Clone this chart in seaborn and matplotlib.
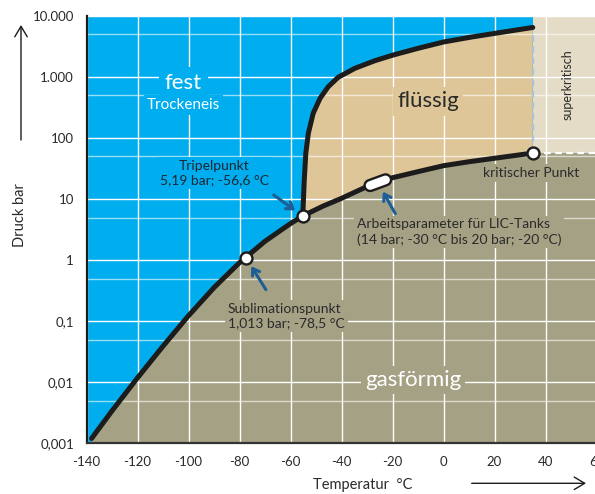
import matplotlib
matplotlib.use("Agg")
import matplotlib.pyplot as plt
from matplotlib.patches import FancyArrowPatch
import seaborn as sns
from matplotlib.ticker import FixedLocator, FixedFormatter, LogLocator, NullFormatter

sns.set_style("white")
plt.rcParams['font.family'] = ['Lato', 'DejaVu Sans']

# Sublimationskurve (fest / gasförmig)
subl_t = [-138, -130, -120, -110, -100, -90, -80, -70, -60, -55.2]
subl_p = [0.0012, 0.0034, 0.0118, 0.039, 0.123, 0.355, 0.91, 2.04, 3.98, 5.3]

# Dampfdruckkurve (flüssig / gasförmig)
vap_t = [-55.2, -47.2, -40, -30.1, -21, -10, 0, 10, 20, 35]
vap_p = [5.3, 7.7, 10.3, 16.0, 21.9, 28.2, 35.3, 41.0, 46.7, 56.8]

# Schmelzkurve (fest / flüssig)
melt_t = [-55.2, -54.6, -54.0, -53.0, -51.1, -48.4, -45.2, -41.3, -34.7, -26.9, -19.7,
          -9.9, 0, 10.4, 20.2, 35]
melt_p = [5.3, 20.6, 56.4, 120, 255, 449, 695, 991, 1392, 1854, 2297,
          2960, 3750, 4480, 5200, 6490]

# markierte Punkte: Sublimationspunkt, Tripelpunkt, kritischer Punkt
points_t = [-77.5, -55.2, 35]
points_p = [1.1, 5.3, 56.8]

# Arbeitsbereich LIC-Tanks
pill_t = [-28.8, -22.7]
pill_p = [16.7, 20.7]

x_ticks = [-140, -120, -100, -80, -60, -40, -20, 0, 20, 40, 60]
x_labels = ["-140", "-120", "-100", "-80", "-60", "-40", "-20", "0", "20", "40", "60"]
y_ticks = [0.001, 0.01, 0.1, 1, 10, 100, 1000, 10000]
y_labels = ["0,001", "0,01", "0,1", "1", "10", "100", "1.000", "10.000"]
half_lines = [0.005, 0.05, 0.5, 5, 50, 500, 5000]

BLUE = "#00aeef"
LIQ = "#dec699"
GAS = "#a5a185"
SUPER = "#e4dcc7"
DARK = "#1c1c1c"
TXT = "#2a2a2a"
ARROW = "#1d5e96"

xmin, xmax = -140, 60
ymin, ymax = 0.001, 10000

fig = plt.figure(figsize=(5.95, 4.94), dpi=100)
ax = fig.add_axes([86.5 / 595, 50.7 / 494, 510 / 595, 427.3 / 494])
ax.set_facecolor(BLUE)
ax.set_yscale("log")
ax.set_xlim(xmin, xmax)
ax.set_ylim(ymin, ymax)

# Flächen
gas_t = [subl_t[0]] + subl_t + vap_t[1:] + [xmax, xmax]
gas_p = [ymin] + subl_p + vap_p[1:] + [vap_p[-1], ymin]
ax.fill(gas_t, gas_p, color=GAS, lw=0, zorder=1)
ax.fill(melt_t + vap_t[::-1], melt_p + vap_p[::-1], color=LIQ, lw=0, zorder=1)
ax.fill_between([points_t[2], xmax], points_p[2], ymax, color=SUPER, lw=0, zorder=1)

# Gitter
ax.set_axisbelow("line")
ax.xaxis.set_major_locator(FixedLocator(x_ticks))
ax.xaxis.set_major_formatter(FixedFormatter(x_labels))
ax.yaxis.set_major_locator(FixedLocator(y_ticks))
ax.yaxis.set_major_formatter(FixedFormatter(y_labels))
ax.yaxis.set_minor_locator(LogLocator(base=10, subs=range(2, 10)))
ax.yaxis.set_minor_formatter(NullFormatter())
ax.grid(True, which="major", color="white", lw=1.0)
for v in half_lines:
    ax.axhline(v, color="white", lw=1.0, alpha=0.6, zorder=1.5)

ax.tick_params(axis="x", length=0, pad=9, labelsize=9.5, labelcolor=TXT)
ax.tick_params(axis="y", which="major", direction="in", length=7, width=1.1, color="white",
               pad=9, labelsize=9.5, labelcolor=TXT)
ax.tick_params(axis="y", which="minor", direction="in", length=6, width=1.1, color="white")
for s in ["top", "right"]:
    ax.spines[s].set_visible(False)
ax.spines["left"].set_color(DARK)
ax.spines["left"].set_linewidth(1.6)
ax.spines["bottom"].set_color("#333333")
ax.spines["bottom"].set_linewidth(1.6)

# Grenzlinien
ax.plot([points_t[2], points_t[2]], [points_p[2], melt_p[-1]], color="#a9c3d8", lw=1.6,
        ls=(0, (3, 2)), zorder=1.8)
ax.plot([points_t[2], xmax], [points_p[2], points_p[2]], color="white", lw=1.6,
        ls=(0, (3, 2)), zorder=1.8)

for t, p in [(subl_t, subl_p), (vap_t, vap_p), (melt_t, melt_p)]:
    sns.lineplot(x=t, y=p, sort=False, estimator=None, color=DARK, lw=3.6, ax=ax, zorder=2.2)

ax.plot(pill_t, pill_p, color=DARK, lw=9.6, solid_capstyle="round", zorder=3)
ax.plot(pill_t, pill_p, color="white", lw=6.2, solid_capstyle="round", zorder=3.1)

sns.scatterplot(x=points_t, y=points_p, s=74, color="white", edgecolor=DARK, linewidth=1.7,
                ax=ax, zorder=4)

# Beschriftungen
def label(x, y, s, fc, color=TXT, size=10, **kw):
    ax.text(x, y, s, color=color, fontsize=size, ha=kw.pop("ha", "center"), va="center",
            zorder=3.5, bbox=dict(fc=fc, ec="none", pad=kw.pop("pad", 2)), **kw)

label(-102, 800, "fest", BLUE, color="white", size=16, pad=4)
label(-102, 350, "Trockeneis", BLUE, color="white", size=11)
label(-90, 27, "Tripelpunkt\n5,19 bar; -56,6 °C", BLUE, color="#1e2631", size=10,
      linespacing=1.25)
label(-6, 400, "flüssig", LIQ, size=16, pad=3)
label(-12, 0.011, "gasförmig", GAS, color="white", size=16, pad=3)
label(34.5, 27, "kritischer Punkt", GAS, size=10)
label(-34, 2.9, "Arbeitsparameter für LIC-Tanks\n(14 bar; -30 °C bis 20 bar; -20 °C)", GAS,
      size=10, ha="left", linespacing=1.25)
label(-84.5, 0.12, "Sublimationspunkt\n1,013 bar; -78,5 °C", GAS, size=10, ha="left",
      linespacing=1.25)
ax.text(48.7, 750, "superkritisch", rotation=90, color=TXT, fontsize=9, ha="center", va="center",
        zorder=3.5)

# Pfeile zu den Punkten
arrow = dict(arrowstyle="->,head_length=0.45,head_width=0.3", color=ARROW, lw=2.2,
             shrinkA=0)
ax.annotate("", xy=(points_t[1], points_p[1]), xytext=(-20.9, 15.1), textcoords="offset points",
            arrowprops=dict(arrow, shrinkB=6.7), zorder=4.5)
ax.annotate("", xy=(points_t[0], points_p[0]), xytext=(14.4, -23), textcoords="offset points",
            arrowprops=dict(arrow, shrinkB=7.3), zorder=4.5)
pill_mid = (sum(pill_t) / 2, (pill_p[0] * pill_p[1]) ** 0.5)
ax.annotate("", xy=pill_mid, xytext=(12.6, -22.3), textcoords="offset points",
            arrowprops=dict(arrow, shrinkB=7.4), zorder=4.5)

# Achsenbeschriftung mit Pfeilen
fig.text(20 / 595, 279 / 494, "Druck bar", rotation=90, fontsize=10.5, color=TXT,
         ha="center", va="center")
fig.text(363 / 595, 9 / 494, "Temperatur  °C", fontsize=10.5, color=TXT, ha="center", va="center")
for start, end in [((21, 354), (21, 469)), ((471.7, 10.7), (586, 10.7))]:
    fig.add_artist(FancyArrowPatch(start, end, transform=None, mutation_scale=10,
                                   arrowstyle="->,head_length=0.75,head_width=0.45",
                                   color=DARK, lw=1.0, shrinkA=0, shrinkB=0))

fig.savefig("out.png", dpi=100)
